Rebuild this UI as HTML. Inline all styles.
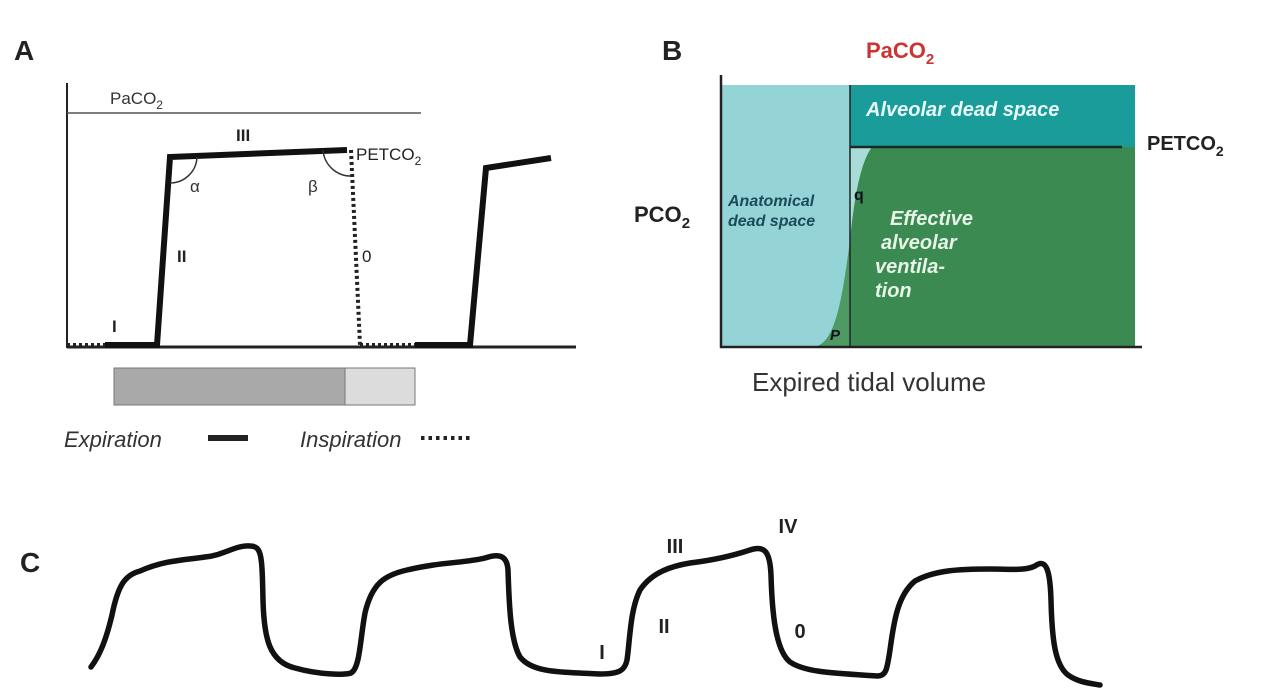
<!DOCTYPE html>
<html><head><meta charset="utf-8"><style>
html,body{margin:0;padding:0;background:#fff;}
svg{display:block;}
text{font-family:"Liberation Sans",sans-serif;}
</style></head><body>
<svg width="1278" height="690" viewBox="0 0 1278 690" xmlns="http://www.w3.org/2000/svg">
<!-- Panel A -->
<text x="14" y="60" font-size="28" font-weight="bold" fill="#222">A</text>
<line x1="67" y1="83" x2="67" y2="348" stroke="#222" stroke-width="2"/>
<line x1="67" y1="347" x2="576" y2="347" stroke="#222" stroke-width="3"/>
<line x1="67" y1="113" x2="421" y2="113" stroke="#555" stroke-width="1.5"/>
<text x="110" y="104" font-size="17" fill="#333">PaCO<tspan font-size="12" dy="5">2</tspan></text>
<line x1="67" y1="345" x2="105" y2="345" stroke="#222" stroke-width="4" stroke-dasharray="3,3"/>
<polyline points="105,345 157,345 170,157 347,150" fill="none" stroke="#111" stroke-width="6"/>
<line x1="351" y1="150" x2="360" y2="345" stroke="#222" stroke-width="4" stroke-dasharray="3,3"/>
<line x1="360" y1="345" x2="415" y2="345" stroke="#222" stroke-width="4" stroke-dasharray="3,3"/>
<polyline points="415,345 470,345 486,168 551,158" fill="none" stroke="#111" stroke-width="6"/>
<path d="M197,157 A27,27 0 0 1 170,183" fill="none" stroke="#333" stroke-width="1.5"/>
<path d="M323,150 A28,28 0 0 0 351,176" fill="none" stroke="#333" stroke-width="1.5"/>
<text x="190" y="192" font-size="17" fill="#333">α</text>
<text x="308" y="192" font-size="17" fill="#333">β</text>
<text x="236" y="141" font-size="17" font-weight="bold" fill="#222">III</text>
<text x="356" y="160" font-size="17" fill="#222">PETCO<tspan font-size="12" dy="5">2</tspan></text>
<text x="177" y="262" font-size="17" font-weight="bold" fill="#222">II</text>
<text x="362" y="262" font-size="17" fill="#222">0</text>
<text x="112" y="332" font-size="17" font-weight="bold" fill="#222">I</text>
<rect x="114" y="368" width="231" height="37" fill="#a9a9a9" stroke="#777" stroke-width="1"/>
<rect x="345" y="368" width="70" height="37" fill="#dcdcdc" stroke="#777" stroke-width="1"/>
<text x="64" y="447" font-size="22" font-style="italic" fill="#333">Expiration</text>
<rect x="208" y="435" width="40" height="6" fill="#222"/>
<text x="300" y="447" font-size="22" font-style="italic" fill="#333">Inspiration</text>
<line x1="421" y1="438" x2="470" y2="438" stroke="#222" stroke-width="4" stroke-dasharray="3.5,4"/>
<!-- Panel B -->
<text x="662" y="60" font-size="28" font-weight="bold" fill="#222">B</text>
<text x="866" y="58" font-size="22" font-weight="bold" fill="#cc3333">PaCO<tspan font-size="15" dy="6">2</tspan></text>
<rect x="722" y="85" width="128" height="262" fill="#94d4d6"/>
<rect x="850" y="85" width="285" height="62" fill="#1a9c9a"/>
<rect x="850" y="147" width="285" height="200" fill="#3a8a52"/>
<path d="M812,347 C835,347 842,300 850,240 L850,347 Z" fill="#4e9a62"/>
<path d="M850,147 L872,147 C862,160 855,190 850,240 Z" fill="#a8dcd6"/>
<line x1="850" y1="85" x2="850" y2="347" stroke="#222" stroke-width="1.5"/>
<line x1="850" y1="147" x2="1122" y2="147" stroke="#1a2a22" stroke-width="2.5"/>
<line x1="721" y1="75" x2="721" y2="348" stroke="#222" stroke-width="2.5"/>
<line x1="720" y1="347" x2="1142" y2="347" stroke="#222" stroke-width="2.5"/>
<text x="866" y="116" font-size="20" font-weight="bold" font-style="italic" fill="#e8f8f8">Alveolar dead space</text>
<text x="1147" y="150" font-size="20" font-weight="bold" fill="#222">PETCO<tspan font-size="14" dy="6">2</tspan></text>
<text x="728" y="206" font-size="16" font-weight="bold" font-style="italic" fill="#1d4a5a">Anatomical</text>
<text x="728" y="226" font-size="16" font-weight="bold" font-style="italic" fill="#1d4a5a">dead space</text>
<text x="854" y="200" font-size="16" font-weight="bold" fill="#112">q</text>
<text x="830" y="340" font-size="15" font-weight="bold" font-style="italic" fill="#112">P</text>
<text x="634" y="222" font-size="22" font-weight="bold" fill="#222">PCO<tspan font-size="15" dy="6">2</tspan></text>
<g font-size="20" font-weight="bold" font-style="italic" fill="#e8f4e8">
<text x="890" y="225">Effective</text>
<text x="881" y="249">alveolar</text>
<text x="875" y="273">ventila-</text>
<text x="875" y="297">tion</text>
</g>
<text x="752" y="391" font-size="26" fill="#333">Expired tidal volume</text>
<!-- Panel C -->
<text x="20" y="572" font-size="28" font-weight="bold" fill="#222">C</text>
<path d="M91,667 C100,655 106,640 112,615 C118,585 125,575 140,571 C165,560 185,560 205,557 C225,555 235,545 250,546 C262,546 262,556 263,600 C264,640 270,662 295,668 C320,675 345,675 351,673 C360,668 360,640 365,613 C372,583 385,575 407,570 C440,562 465,563 485,558 C500,553 507,556 508,570 C509,600 510,640 520,657 C532,672 555,672 600,674 C620,674 625,670 627,660 C630,640 630,610 640,590 C652,572 672,566 690,563 C715,560 735,555 750,550 C765,545 770,552 771,575 C772,610 775,650 790,662 C805,672 830,673 877,676 C886,676 887,670 890,650 C894,620 898,595 915,581 C935,570 960,569 990,569 C1010,569 1025,571 1035,566 C1045,559 1050,566 1051,600 C1052,640 1055,665 1068,675 C1078,682 1088,683 1100,685" fill="none" stroke="#111" stroke-width="5.5" stroke-linecap="round"/>
<g font-size="20" font-weight="bold" fill="#222" text-anchor="middle">
<text x="675" y="553">III</text>
<text x="788" y="533">IV</text>
<text x="664" y="633">II</text>
<text x="800" y="638">0</text>
<text x="602" y="659">I</text>
</g>
</svg>
</body></html>
